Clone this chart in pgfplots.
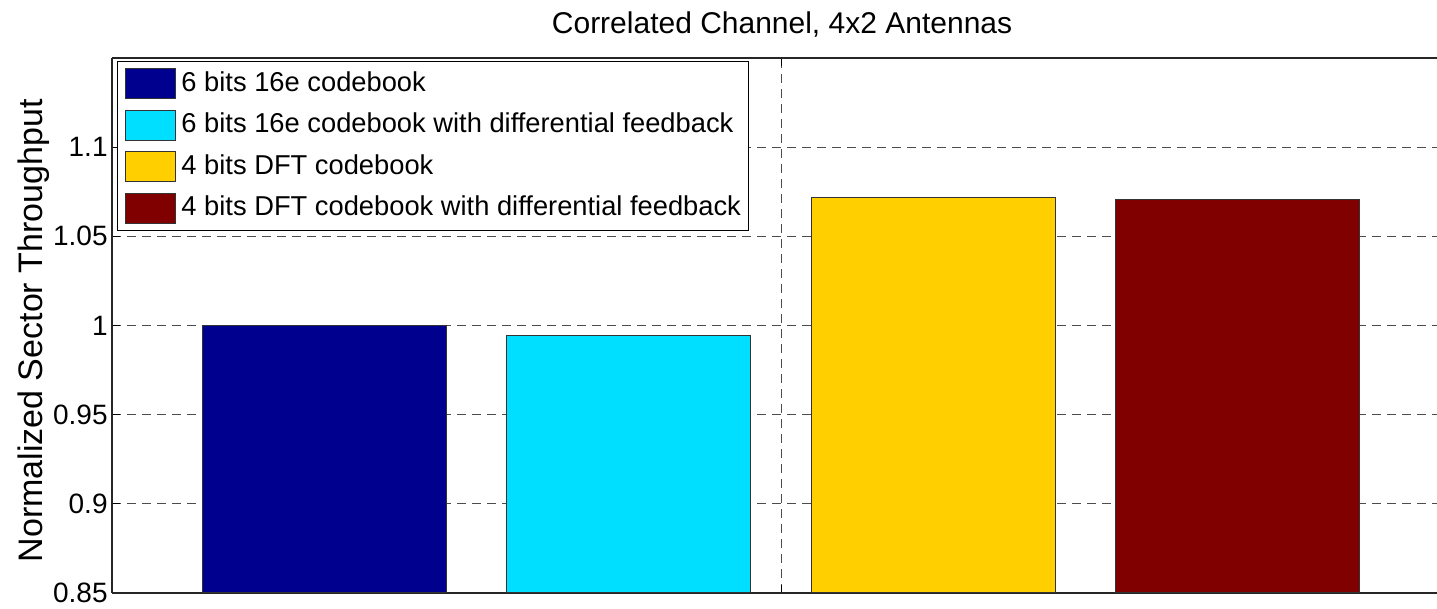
\documentclass[border=0pt]{standalone}
\usepackage{fontspec}
\setmainfont{Liberation Sans}
\usepackage{pgfplots}
\pgfplotsset{compat=1.18}
\definecolor{c1}{HTML}{00008F}
\definecolor{c2}{HTML}{00DFFF}
\definecolor{c3}{HTML}{FFCF00}
\definecolor{c4}{HTML}{800000}
\begin{document}
\begin{tikzpicture}
\begin{axis}[
 name=ax,
 scale only axis,
 width=662.5pt, height=267.5pt,
 xmin=112, xmax=1437, ymin=0.85, ymax=1.15,
 axis x line*=box, axis y line*=left,
 axis line style={black!85, line width=0.6pt},
 ybar, bar shift=0pt, bar width=244,
 xtick={781}, xticklabels={},
 ytick={0.85,0.9,0.95,1,1.05,1.1},
 yticklabels={0.85,0.9,0.95,1,1.05,1.1},
 tick align=inside, major tick length=4pt,
 tick style={black, line width=0.5pt},
 ymajorgrids, xmajorgrids,
 major grid style={black!70, dash pattern=on 4.5pt off 3pt, line width=0.5pt},
 /pgf/number format/assume math mode=true,
 yticklabel style={font=\fontsize{14pt}{16pt}\selectfont, inner sep=0pt, xshift=-2pt},
 title={Correlated Channel, 4x2 Antennas},
 title style={font=\fontsize{15pt}{18pt}\selectfont, at={(0.5057,1)}, anchor=base, yshift=6pt, inner sep=0pt},
 ylabel={Normalized Sector Throughput},
 ylabel style={font=\fontsize{17pt}{20pt}\selectfont, at={(axis description cs:-0.05208,0.49)}, anchor=base, inner sep=0pt},
 legend style={at={(0,1)}, anchor=north west, xshift=2.5pt, yshift=-1.5pt, draw=black, line width=0.5pt,
   font=\fontsize{13.65pt}{16pt}\selectfont, inner xsep=4pt, inner ysep=3.3pt, row sep=5.25pt, column sep=2.5pt,
   nodes={inner sep=0pt, text height=10.5pt, text depth=3pt}},
 legend cell align=left,
 legend image code/.code={\draw[#1] (1pt,-7.5pt) rectangle (26pt,7.5pt);},
]
\addplot[fill=c1, draw=black!80, line width=0.5pt] coordinates {(324.4,1.0)};
\addlegendentry{6 bits 16e codebook}
\addplot[fill=c2, draw=black!80, line width=0.5pt] coordinates {(628.8,0.9944)};
\addlegendentry{6 bits 16e codebook with differential feedback}
\addplot[fill=c3, draw=black!80, line width=0.5pt] coordinates {(933.2,1.0716)};
\addlegendentry{4 bits DFT codebook}
\addplot[fill=c4, draw=black!80, line width=0.5pt] coordinates {(1237.6,1.0705)};
\addlegendentry{4 bits DFT codebook with differential feedback}
\end{axis}
\pgfresetboundingbox
\path[use as bounding box] ([xshift=-56pt,yshift=-8pt]ax.south west) rectangle ([yshift=29pt]ax.north east);
\end{tikzpicture}
\end{document}
